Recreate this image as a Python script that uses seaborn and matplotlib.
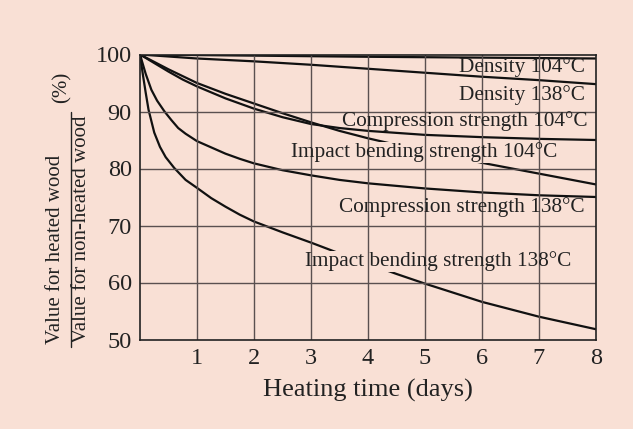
import matplotlib
matplotlib.use("Agg")
import matplotlib.pyplot as plt
from matplotlib.lines import Line2D
import pandas as pd
import seaborn as sns

# ---- data ----
density_104_days = [0, 1, 2, 4, 6, 8]
density_104 = [100, 99.9, 99.8, 99.6, 99.45, 99.3]

density_138_days = [0, 1, 2, 3, 4, 5, 6, 7, 8]
density_138 = [100, 99.3, 98.8, 98.2, 97.5, 96.8, 96.1, 95.5, 94.8]

comp_104_days = [0, 0.25, 0.5, 0.75, 1, 1.5, 2, 2.5, 3, 3.5, 4, 5, 6, 7, 8]
comp_104 = [100, 98.5, 97.0, 95.6, 94.4, 92.3, 90.5, 89.0, 87.8, 87.1, 86.6, 85.9, 85.5, 85.2, 85.0]

impact_104_days = [0, 0.5, 1, 1.5, 2, 2.5, 3, 3.5, 4, 5, 6, 7, 8]
impact_104 = [100, 97.4, 95.0, 93.1, 91.4, 89.7, 88.1, 86.6, 85.3, 83.0, 81.0, 79.1, 77.2]

comp_138_days = [0, 0.1, 0.2, 0.3, 0.43, 0.55, 0.67, 0.8, 1, 1.25, 1.5, 1.75, 2, 2.5,
                 3, 3.5, 4, 5, 6, 7, 8]
comp_138 = [100, 96.6, 93.8, 91.9, 90.0, 88.5, 87.1, 86.1, 84.8, 83.7, 82.6, 81.7, 80.9,
            79.7, 78.8, 78.0, 77.4, 76.5, 75.8, 75.3, 75.0]

impact_138_days = [0, 0.05, 0.1, 0.15, 0.25, 0.35, 0.45, 0.6, 0.8, 1, 1.25, 1.5, 1.75,
                   2, 2.5, 3, 3.5, 4, 4.5, 5, 5.5, 6, 7, 8]
impact_138 = [100, 96.5, 93.3, 90.3, 86.3, 83.8, 82.0, 80.1, 78.0, 76.6, 74.8, 73.3, 71.9,
              70.7, 68.8, 67.0, 65.1, 63.3, 61.5, 59.8, 58.2, 56.6, 54.0, 51.8]

series_names = ["Density 104°C", "Density 138°C", "Compression strength 104°C",
                "Impact bending strength 104°C", "Compression strength 138°C",
                "Impact bending strength 138°C"]
label_pos = [(7.8, 97.8), (7.8, 92.9), (7.86, 88.4), (7.33, 82.8), (7.8, 73.2), (7.57, 63.7)]
label_masks = [False, False, False, True, False, True]

x_ticks = [1, 2, 3, 4, 5, 6, 7, 8]
y_ticks = [50, 60, 70, 80, 90, 100]
x_label = "Heating time (days)"
y_num = "Value for heated wood"
y_den = "Value for non-heated wood"

# ---- build table ----
all_days = [density_104_days, density_138_days, comp_104_days, impact_104_days,
            comp_138_days, impact_138_days]
all_vals = [density_104, density_138, comp_104, impact_104, comp_138, impact_138]
rows = []
for name, d, v in zip(series_names, all_days, all_vals):
    for xi, yi in zip(d, v):
        rows.append({"series": name, "day": xi, "value": yi})
df = pd.DataFrame(rows)

BG = "#f9e0d5"
sns.set_theme(style="white")
plt.rcParams["font.family"] = ["Liberation Serif", "DejaVu Serif"]

fig = plt.figure(figsize=(6.33, 4.29), dpi=100, facecolor=BG)
ax = fig.add_axes([140 / 633, 1 - 339.5 / 429, 456 / 633, (339.5 - 54.5) / 429])
ax.set_facecolor(BG)

sns.lineplot(data=df, x="day", y="value", units="series", estimator=None,
             color="#111111", linewidth=1.6, ax=ax, zorder=2, sort=False)

ax.set_xlim(0, 8)
ax.set_ylim(50, 100)
ax.set_xticks(x_ticks)
ax.set_yticks(y_ticks)
ax.tick_params(axis="both", length=0, labelsize=17.5, colors="#222222", pad=6)
ax.set_xlabel(x_label, fontsize=19, color="#222222", labelpad=7)
ax.set_ylabel("")
for s in ax.spines.values():
    s.set_color("#222222")
    s.set_linewidth(1.2)
    s.set_zorder(6)

# grid drawn above label backgrounds but below label text
for xv in x_ticks[:-1]:
    ax.axvline(xv, color="#5a5050", linewidth=1.0, zorder=4)
for yv in y_ticks[1:-1]:
    ax.axhline(yv, color="#5a5050", linewidth=1.0, zorder=4)

for name, (lx, ly), mask in zip(series_names, label_pos, label_masks):
    if mask:
        ax.text(lx, ly, name, ha="right", va="center", fontsize=15.3, color="none",
                zorder=3, bbox=dict(facecolor=BG, edgecolor="none", pad=0.5))
    ax.text(lx, ly, name, ha="right", va="center", fontsize=15.3, color="#222222",
            zorder=5)

# y-axis label as a fraction
fig.text(55.5 / 633, 1 - 249 / 429, y_num, rotation=90, ha="center", va="center",
         fontsize=15, color="#222222")
fig.text(82 / 633, 1 - 229 / 429, y_den, rotation=90, ha="center", va="center",
         fontsize=15, color="#222222")
fig.text(62 / 633, 1 - 87.5 / 429, "(%)", rotation=90, ha="center", va="center",
         fontsize=15, color="#222222")
fig.add_artist(Line2D([71 / 633, 71 / 633], [1 - 112 / 429, 1 - 347 / 429],
                      transform=fig.transFigure, color="#222222", linewidth=1.0))

fig.savefig("out.png", dpi=100, facecolor=BG)
